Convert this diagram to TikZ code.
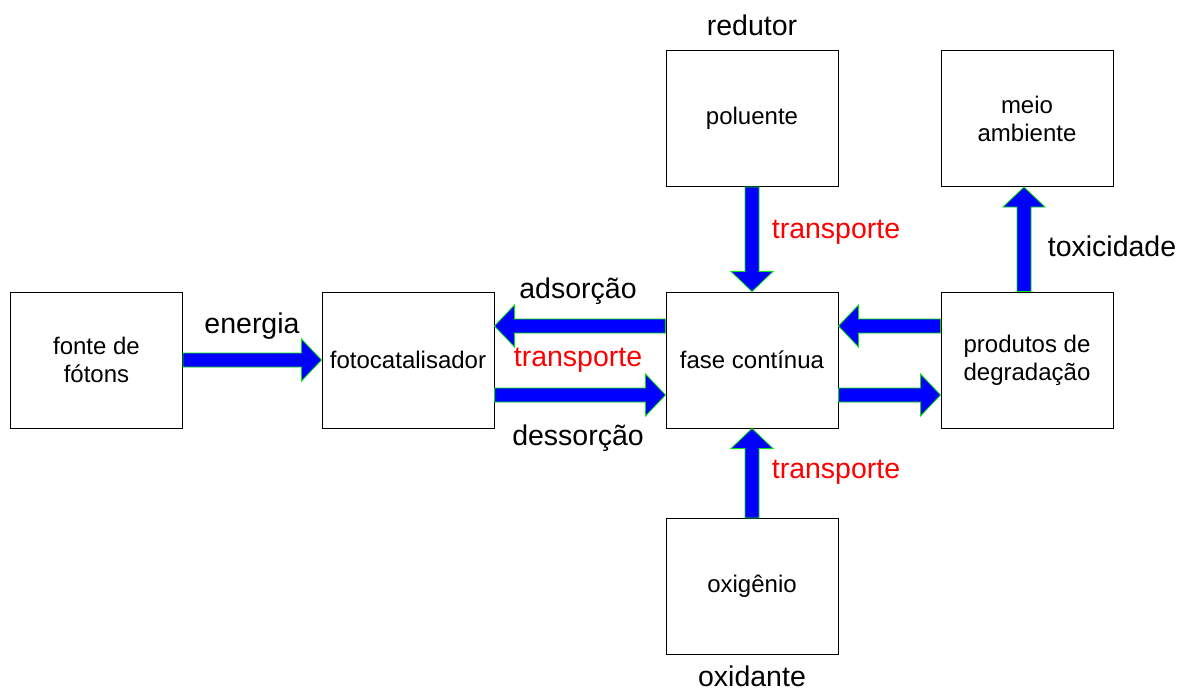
\documentclass[tikz,border=0pt]{standalone}
\usepackage{fontspec}
\setmainfont{Liberation Sans}
\usetikzlibrary{calc}
\definecolor{arrblue}{RGB}{0,0,255}
\definecolor{arrgreen}{RGB}{0,230,0}
\definecolor{lblred}{RGB}{255,0,0}
\tikzset{
  box/.style={draw=black, line width=1pt, minimum width=172pt, minimum height=136pt, align=center, font=\fontsize{24}{28}\selectfont, inner sep=0pt},
  lbl/.style={font=\fontsize{28.5}{32}\selectfont, inner sep=0pt},
  rlbl/.style={lbl, text=lblred},
  blockarr/.style={fill=arrblue, draw=arrgreen, line width=0.8pt, line join=miter}
}
\newcommand{\blockarrow}[2]{%
  \path (#1) coordinate (ba) (#2) coordinate (bb);
  \path ($(bb)!20pt!(ba)$) coordinate (bh);
  \draw[blockarr] ($(ba)!7pt!90:(bb)$) -- ($(bh)!7pt!-90:(ba)$) -- ($(bh)!21pt!-90:(ba)$) -- (bb) -- ($(bh)!21pt!90:(ba)$) -- ($(bh)!7pt!90:(ba)$) -- ($(ba)!7pt!-90:(bb)$) -- cycle;
}
\begin{document}
\begin{tikzpicture}[x=1pt, y=-1pt]
\useasboundingbox (0,0) rectangle (1180,690);
% boxes
\node[box] (fonte) at (96.5,360) {fonte de\\fótons};
\node[box] (foto) at (408,360) {fotocatalisador};
\node[box] (fase) at (752,360) {fase contínua};
\node[box] (prod) at (1027,360) {produtos de\\degradação};
\node[box] (pol) at (752,118.5) {poluente};
\node[box] (meio) at (1027,118.5) {meio\\ambiente};
\node[box] (oxi) at (752,586.5) {oxigênio};
% arrows
\blockarrow{fonte.east}{foto.west}
\blockarrow{[yshift=34pt]fase.west}{[yshift=34pt]foto.east}
\blockarrow{[yshift=-35pt]foto.east}{[yshift=-35pt]fase.west}
\blockarrow{[yshift=34pt]prod.west}{[yshift=34pt]fase.east}
\blockarrow{[yshift=-35pt]fase.east}{[yshift=-35pt]prod.west}
\blockarrow{pol.south}{fase.north}
\blockarrow{oxi.north}{fase.south}
\blockarrow{[xshift=-3pt]prod.north}{[xshift=-3pt]meio.south}
% labels
\node[lbl] (lredutor) at (752,25) {redutor};
\node[lbl] (loxidante) at (752,676) {oxidante};
\node[lbl] (lenergia) at (252,326) {energia};
\node[lbl] (ladsorcao) at (578,291) {adsorção};
\node[rlbl] (ltransp1) at (578,360) {transporte};
\node[lbl] (ldessorcao) at (578,438) {dessorção};
\node[rlbl] (ltransp2) at (836,232) {transporte};
\node[rlbl] (ltransp3) at (836,472) {transporte};
\node[lbl] (ltox) at (1112,246) {toxicidade};
\end{tikzpicture}
\end{document}
